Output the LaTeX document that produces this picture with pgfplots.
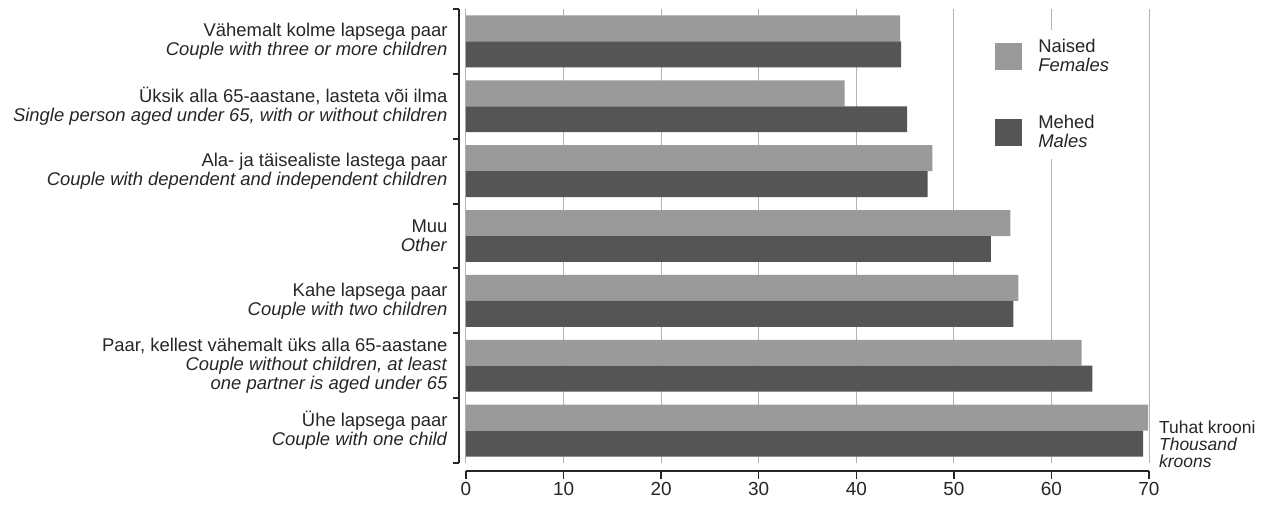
\documentclass[border=0pt]{standalone}
\usepackage{fontspec}
\setmainfont{Liberation Sans}
\usepackage{pgfplots}
\pgfplotsset{compat=1.18}
\usetikzlibrary{calc}
\definecolor{fem}{HTML}{9A9A9A}
\definecolor{mal}{HTML}{555555}
\definecolor{txt}{HTML}{262626}
\definecolor{gridc}{HTML}{B4B4B4}
\begin{document}
\begin{tikzpicture}
\begin{axis}[
  scale only axis, width=683bp, height=454bp,
  xmin=0, xmax=70, ymin=-0.5, ymax=6.5, y dir=reverse,
  clip=false,
  axis x line*=bottom, axis y line*=left,
  axis x line shift=8bp, axis y line shift=7bp,
  axis line style={line width=2.5bp, color=txt, -},
  xbar, bar width=0.4,
  xtick={0,10,...,70},
  xmajorgrids, grid style={color=gridc, line width=1bp},
  tick align=outside,
  xtick style={line width=1.5bp, color=txt},
  major tick length=8bp,
  ytick={0,...,6},
  ytick style={draw=none},
  minor ytick={-0.5,0.5,...,6.5},
  minor tick length=6bp,
  minor y tick style={draw=txt, line width=2bp},
  /pgf/number format/assume math mode=true,
  tick label style={font=\fontsize{18.5}{19}\selectfont, color=txt},
  xticklabel style={font=\fontsize{19}{19}\selectfont},
  yticklabel style={align=right},
  yticklabels={
    {Vähemalt kolme lapsega paar\\\textit{Couple with three or more children}},
    {Üksik alla 65-aastane, lasteta või ilma\\\textit{Single person aged under 65, with or without children}},
    {Ala- ja täisealiste lastega paar\\\textit{Couple with dependent and independent children}},
    {Muu\\\textit{Other}},
    {Kahe lapsega paar\\\textit{Couple with two children}},
    {Paar, kellest vähemalt üks alla 65-aastane\\\textit{Couple without children, at least}\\\textit{one partner is aged under 65}},
    {Ühe lapsega paar\\\textit{Couple with one child}}
  },
  legend style={at={(axis description cs:0.763,0.955)}, anchor=north west,
    draw=none, fill=white, inner sep=8bp, row sep=38bp, column sep=14bp,
    font=\fontsize{18.5}{19}\selectfont,
    cells={align=left, anchor=west, text=txt}},
  legend image code/.code={\fill[#1] (0bp,-13.5bp) rectangle (27bp,13.5bp);},
]
\addplot[draw=none, fill=fem, bar shift=-0.2] coordinates {
 (44.5,0) (38.8,1) (47.8,2) (55.8,3) (56.6,4) (63.1,5) (69.9,6)};
\addlegendentry{Naised\\\textit{Females}}
\addplot[draw=none, fill=mal, bar shift=0.2] coordinates {
 (44.6,0) (45.2,1) (47.3,2) (53.8,3) (56.1,4) (64.2,5) (69.4,6)};
\addlegendentry{Mehed\\\textit{Males}}
\node[anchor=south west, align=left, inner sep=0pt, text=txt,
  font=\fontsize{17.5}{17}\selectfont] at (axis description cs:1,0) [xshift=10bp, yshift=-5bp]
  {Tuhat krooni\\\textit{Thousand}\\\textit{kroons}};
\coordinate (SW) at (axis description cs:0,0);
\end{axis}
\pgfresetboundingbox
\path[use as bounding box] ($(SW)+(-466bp,-42bp)$) rectangle ($(SW)+(803bp,463bp)$);
\end{tikzpicture}
\end{document}
